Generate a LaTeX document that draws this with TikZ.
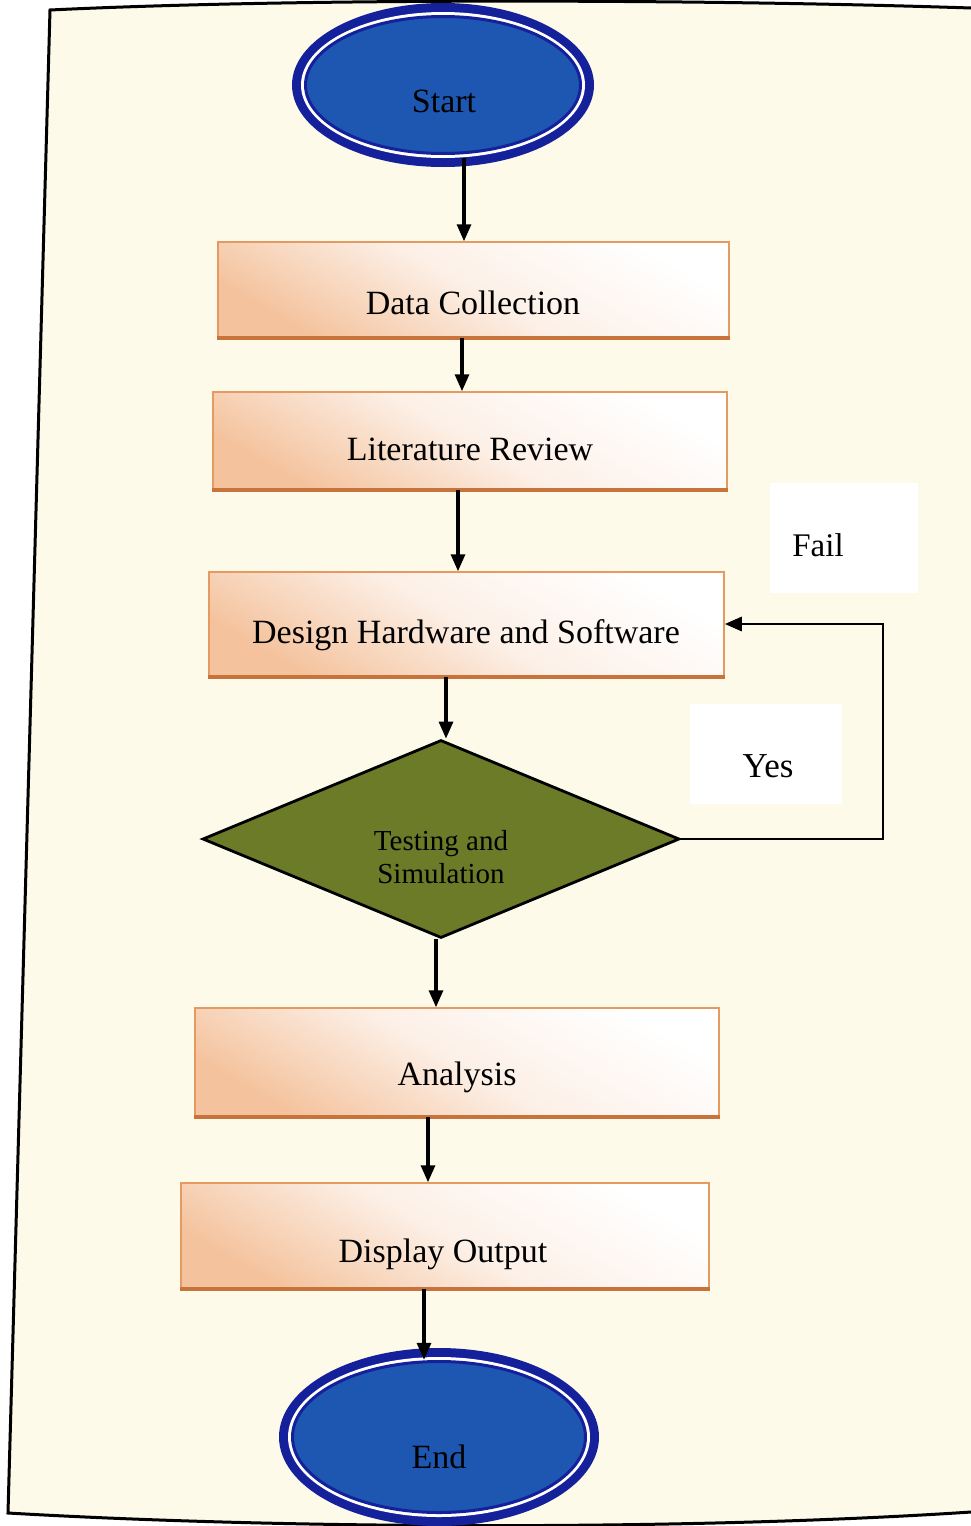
\documentclass[tikz,border=0pt]{standalone}
\usepackage{fontspec}
\setmainfont{Liberation Serif}
\usetikzlibrary{shapes.geometric,arrows.meta,calc}
\definecolor{paper}{HTML}{FEFAEA}
\definecolor{navy}{HTML}{14219A}
\definecolor{ovalblue}{HTML}{1D57B2}
\definecolor{olive}{HTML}{6B7B27}
\definecolor{peach}{HTML}{F4C29C}
\definecolor{boxedge}{HTML}{E59A62}
\definecolor{boxbase}{HTML}{C8733C}
\tikzset{
  txt/.style={font=\fontsize{34}{40}\selectfont, inner sep=0pt, anchor=base},
  procbox/.style={rectangle, draw=boxedge, line width=1.5pt, top color=white, bottom color=peach, middle color=white!75!peach, shading angle=-30, inner sep=0pt},
  boxfoot/.style={draw=boxbase, line width=3.5pt},
  arr/.style={line width=3.2pt, -{Triangle[length=17pt,width=14pt]}},
  lbl/.style={fill=white, inner sep=0pt},
  ovalouter/.style={ellipse, fill=navy, inner sep=0pt},
  ovalgap/.style={ellipse, fill=white, inner sep=0pt},
  ovalinner/.style={ellipse, fill=ovalblue, draw=navy, line width=3pt, inner sep=0pt},
}
\begin{document}
\begin{tikzpicture}[x=1pt, y=-1pt]
\useasboundingbox (0,0) rectangle (971,1526);
\fill[white] (0,0) rectangle (971,1526);
\fill[paper] (50,10) .. controls (300,-2) and (700,-1) .. (971,8) -- (971,1512) .. controls (700,1530) and (300,1530) .. (8,1513) -- cycle;
\draw[line width=3pt] (971,8) .. controls (700,-1) and (300,-2) .. (50,10) -- (8,1513) .. controls (300,1530) and (700,1530) .. (971,1512);

% Start
\node[ovalouter, minimum width=302pt, minimum height=164pt] (start) at (443,85) {};
\node[ovalgap, minimum width=284pt, minimum height=146pt] (startgap) at (start.center) {};
\node[ovalinner, minimum width=275pt, minimum height=137pt] (startin) at (start.center) {};
\node[txt] (starttxt) at (444,112) {Start};

% process boxes
\node[procbox, minimum width=511pt, minimum height=95pt] (dc) at (473.5,289.5) {};
\draw[boxfoot] (dc.south west) -- (dc.south east);
\node[txt] (dctxt) at (473,314) {Data Collection};

\node[procbox, minimum width=514pt, minimum height=97pt] (lr) at (470,440.5) {};
\draw[boxfoot] (lr.south west) -- (lr.south east);
\node[txt] (lrtxt) at (470,460) {Literature Review};

\node[procbox, minimum width=515pt, minimum height=104pt] (dhs) at (466.5,624) {};
\draw[boxfoot] (dhs.south west) -- (dhs.south east);
\node[txt] (dhstxt) at (466,643) {Design Hardware and Software};

\node[procbox, minimum width=524pt, minimum height=108pt] (analysis) at (457,1062) {};
\draw[boxfoot] (analysis.south west) -- (analysis.south east);
\node[txt] (analysistxt) at (457,1085) {Analysis};

\node[procbox, minimum width=528pt, minimum height=105pt] (display) at (445,1235.5) {};
\draw[boxfoot] (display.south west) -- (display.south east);
\node[txt] (displaytxt) at (443,1262) {Display Output};

% decision
\node[diamond, fill=olive, draw=black, line width=2.8pt, minimum width=477pt, minimum height=198pt, inner sep=0pt, aspect=2.4] (test) at (441,839) {};
\node[font=\fontsize{29}{33}\selectfont, align=center, inner sep=0pt] (testtxt) at (441,857) {Testing and\\Simulation};

% End
\node[ovalouter, minimum width=320pt, minimum height=178pt] (endo) at (439,1437) {};
\node[ovalgap, minimum width=302pt, minimum height=160pt] (endgap) at (endo.center) {};
\node[ovalinner, minimum width=293pt, minimum height=151pt] (endin) at (endo.center) {};
\node[txt] (endtxt) at (439,1468) {End};

% labels
\node[lbl, minimum width=148pt, minimum height=110pt] (failbg) at (844,538) {};
\node[txt, font=\fontsize{33}{40}\selectfont] (fail) at (818,556) {Fail};
\node[lbl, minimum width=152pt, minimum height=100pt] (yesbg) at (766,754) {};
\node[txt, font=\fontsize{35}{40}\selectfont] (yes) at (768,777) {Yes};

% connectors
\draw[arr] ([xshift=21pt,yshift=9pt]start.south) -- ([xshift=-9.5pt]dc.north);
\draw[arr] ([xshift=-11.5pt]dc.south) -- ([xshift=-8pt]lr.north);
\draw[arr] ([xshift=-12pt]lr.south) -- ([xshift=-8.5pt]dhs.north);
\draw[arr] ([xshift=-20.5pt]dhs.south) -- ([xshift=5pt]test.north);
\draw[arr] ([xshift=-5pt]test.south) -- ([xshift=-21pt]analysis.north);
\draw[arr] ([xshift=-29pt]analysis.south) -- ([xshift=-17pt]display.north);
\draw[arr] ([xshift=-21pt]display.south) -- ([xshift=-15pt,yshift=-12pt]endo.north);
\coordinate (loopx) at (883,0);
\draw[line width=2.8pt, -{Triangle[length=17pt,width=14pt]}] (test.east) -- (test.east -| loopx) |- (dhs.east);
\end{tikzpicture}
\end{document}
